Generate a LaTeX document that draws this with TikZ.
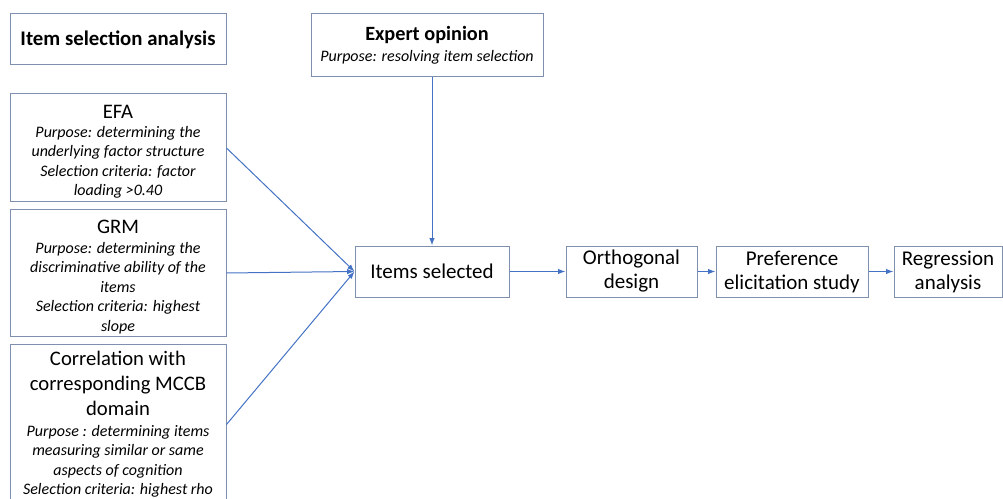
\documentclass[tikz,border=0pt]{standalone}
\usepackage{fontspec}
\setmainfont{Carlito}
\usetikzlibrary{arrows.meta}
\definecolor{boxline}{HTML}{7F8FAE}
\definecolor{arrowblue}{HTML}{4472C4}
\newcommand{\boxhead}{\normalfont\fontsize{15.5}{18}\selectfont}
\begin{document}
\begin{tikzpicture}[x=0.75pt,y=-0.75pt,
  box/.style={draw=boxline,line width=0.75pt,align=center,inner sep=0pt,
    font=\fontsize{15.75}{18}\selectfont},
  sidebox/.style={box,minimum width=162pt,
    font=\fontsize{12}{14.6}\selectfont\itshape},
  flowbox/.style={box,minimum height=38.25pt},
  conn/.style={draw=arrowblue,line width=0.75pt,-{Latex[length=5.5pt,width=4pt]}}]
\useasboundingbox (0,0) rectangle (1003,499);
\clip (0,0) rectangle (1003,499);

\node[box,minimum width=162pt,minimum height=38.25pt,font=\fontsize{15.6}{18}\selectfont\bfseries]
  (title) at (118,39.5) {Item selection analysis};
\node[box,minimum width=174pt,minimum height=47.25pt,font=\fontsize{12}{14.6}\selectfont\itshape]
  (expert) at (427,45.5) {{\normalfont\bfseries\fontsize{15.2}{17}\selectfont Expert opinion}\\[1pt]Purpose: resolving item selection};

\node[sidebox,minimum height=81pt] (efa) at (118,148)
  {{\boxhead\rule{0pt}{15.5pt}EFA}\\Purpose: determining the\\underlying factor structure\\Selection criteria: factor\\loading >0.40};
\node[sidebox,minimum height=94.5pt] (grm) at (118,273)
  {{\boxhead\rule{0pt}{16pt}GRM}\\Purpose: determining the\\discriminative ability of the\\items\\Selection criteria: highest\\slope};
\node[sidebox,minimum height=120.75pt] (corr) at (118,424.5)
  {{\boxhead Correlation with}\\[4pt]{\boxhead corresponding MCCB}\\[4pt]{\boxhead domain}\\[1pt]Purpose : determining items\\measuring similar or same\\aspects of cognition\\Selection criteria: highest rho};

\node[flowbox,minimum width=115.5pt] (items) at (432,271.5) {Items selected};
\node[flowbox,minimum width=98.25pt] (ortho) at (631.5,271.5) {Orthogonal\\design};
\node[flowbox,minimum width=114pt] (pref) at (792,271.5) {Preference\\elicitation study};
\node[flowbox,minimum width=81pt] (regr) at (948,271.5) {Regression\\analysis};

\draw[conn] (efa.east) -- (items.west);
\draw[conn] (grm.east) -- (items.west);
\draw[conn] (corr.east) -- (items.west);
\draw[conn] (items.north |- expert.south) -- (items.north);
\draw[conn] (items) -- (ortho);
\draw[conn] (ortho) -- (pref);
\draw[conn] (pref) -- (regr);
\end{tikzpicture}
\end{document}
